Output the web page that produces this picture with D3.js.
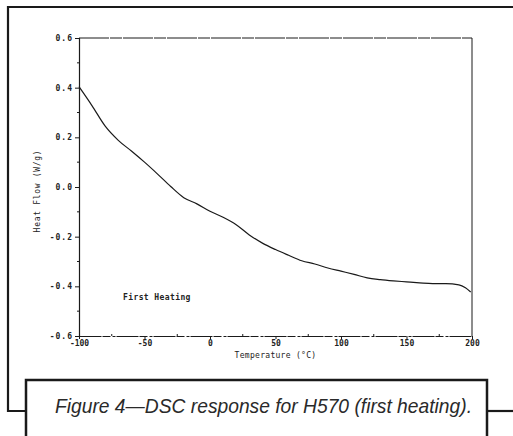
<!DOCTYPE html>
<html>
<head>
<meta charset="utf-8">
<script src="https://cdn.jsdelivr.net/npm/d3@7"></script>
<style>
	body { margin: 0; background: #fff; }
	svg { display: block; }
</style>
</head>
<body>
<div id="graphicContainer"></div>
<script>

// temperature (°C) and heat flow (W/g)
var temps = [-100, -90, -80, -70, -60, -50, -40, -30, -20, -10, 0, 10, 20, 30, 40, 50, 60, 70, 80, 90, 100, 110, 120, 130, 140, 150, 160, 170, 180, 190, 195, 199]
var heatFlow = [0.404, 0.327, 0.245, 0.188, 0.145, 0.100, 0.052, 0.002, -0.043, -0.068, -0.098, -0.122, -0.152, -0.193, -0.226, -0.252, -0.275, -0.297, -0.31, -0.326, -0.339, -0.352, -0.366, -0.373, -0.378, -0.382, -0.386, -0.389, -0.389, -0.394, -0.406, -0.423]

var xTicks = [-100, -50, 0, 50, 100, 150, 200]
var yTicks = [-0.6, -0.4, -0.2, 0.0, 0.2, 0.4, 0.6]

var xLabel = "Temperature (°C)"
var yLabel = "Heat Flow (W/g)"
var curveLabel = "First Heating"
var caption = "Figure 4\u2014DSC response for H570 (first heating)."

function init() {

	var width = 513
	var height = 436
	var margin = {top: 38, right: 41, bottom: 100, left: 79}

	var svg = d3.select("#graphicContainer").append("svg")
		.attr("width", width)
		.attr("height", height)

	var ink = "#1a1a1a"

	// outer page frame
	svg.append("path")
		.attr("fill", "none")
		.attr("stroke", ink)
		.attr("stroke-width", 2.2)
		.attr("d", "M513,7 L8,7 L8,411 L26,411")

	svg.append("path")
		.attr("fill", "none")
		.attr("stroke", ink)
		.attr("stroke-width", 2.2)
		.attr("d", "M487,411 L513,411")

	// caption box
	svg.append("path")
		.attr("fill", "none")
		.attr("stroke", ink)
		.attr("stroke-width", 2.5)
		.attr("d", "M26,440 L26,380 L487,380 L487,440")

	svg.append("text")
		.attr("x", 55)
		.attr("y", 413)
		.attr("font-family", "'Liberation Sans', Arial, sans-serif")
		.attr("font-style", "italic")
		.attr("font-size", 21)
		.attr("fill", "#2a2a2a")
		.attr("textLength", 417)
		.attr("lengthAdjust", "spacingAndGlyphs")
		.text(caption)

	var x = d3.scaleLinear()
		.domain([-100, 200])
		.range([margin.left, width - margin.right])

	var y = d3.scaleLinear()
		.domain([-0.6, 0.6])
		.range([height - margin.bottom, margin.top])

	var mono = "'DejaVu Sans Mono', 'Liberation Mono', monospace"

	// frame lines (top and right)
	svg.append("line")
		.attr("x1", x(-100)).attr("x2", x(200))
		.attr("y1", y(0.6)).attr("y2", y(0.6))
		.attr("stroke", ink).attr("stroke-width", 1)
		.attr("stroke-dasharray", "30,1,12,1")

	svg.append("line")
		.attr("x1", x(200)).attr("x2", x(200))
		.attr("y1", y(0.6)).attr("y2", y(-0.6))
		.attr("stroke", ink).attr("stroke-width", 1)

	// minor ticks
	var yMinor = d3.range(-0.5, 0.6, 0.2)
	svg.append("g")
		.attr("transform", `translate(${x(-100)},0)`)
		.selectAll("line")
		.data(yMinor)
		.join("line")
			.attr("x1", -2).attr("x2", 0)
			.attr("y1", d => y(d)).attr("y2", d => y(d))
			.attr("stroke", ink)

	var xMinor = [-75, -25, 25, 75, 125, 175]
	svg.append("g")
		.attr("transform", `translate(0,${y(-0.6)})`)
		.selectAll("line")
		.data(xMinor)
		.join("line")
			.attr("x1", d => x(d)).attr("x2", d => x(d))
			.attr("y1", -2).attr("y2", 0)
			.attr("stroke", ink)

	var yAxis = svg.append("g")
		.attr("transform", `translate(${x(-100)},0)`)
		.call(d3.axisLeft(y)
			.tickValues(yTicks)
			.tickSize(4)
			.tickPadding(2)
			.tickFormat(d3.format(".1f")))

	yAxis.select(".domain")
		.attr("stroke", ink)
		.attr("stroke-width", 1.2)
	yAxis.selectAll(".tick line").attr("stroke", ink)
	yAxis.selectAll(".tick text")
		.attr("font-family", mono)
		.attr("font-size", 8)
		.attr("font-weight", "bold")
		.attr("letter-spacing", 1)
		.attr("fill", "#222")
		.text(d => d3.format(".1f")(d).replace("−", "-"))

	var xAxis = svg.append("g")
		.attr("transform", `translate(0,${y(-0.6)})`)
		.call(d3.axisBottom(x)
			.tickValues(xTicks)
			.tickSizeInner(3)
			.tickSizeOuter(0)
			.tickPadding(1))

	xAxis.select(".domain")
		.attr("stroke", ink)
		.attr("stroke-width", 1)
		.attr("stroke-dasharray", "22,1,8,2,3,1")
	xAxis.selectAll(".tick line").attr("stroke", ink)
	xAxis.selectAll(".tick text")
		.attr("font-family", mono)
		.attr("font-size", 8)
		.attr("font-weight", "bold")
		.attr("fill", "#222")
		.text(d => String(d))

	// axis titles
	svg.append("text")
		.attr("x", (x(-100) + x(200)) / 2)
		.attr("y", 358)
		.attr("text-anchor", "middle")
		.attr("font-family", mono)
		.attr("font-size", 8)
		.attr("letter-spacing", 0.3)
		.attr("fill", "#222")
		.text(xLabel)

	svg.append("text")
		.attr("transform", `translate(40,${191}) rotate(-90)`)
		.attr("text-anchor", "middle")
		.attr("font-family", mono)
		.attr("font-size", 8)
		.attr("letter-spacing", 0.7)
		.attr("fill", "#222")
		.text(yLabel)

	svg.append("text")
		.attr("x", 123)
		.attr("y", 300)
		.attr("font-family", mono)
		.attr("font-size", 8)
		.attr("font-weight", "bold")
		.attr("letter-spacing", 0.4)
		.attr("fill", "#222")
		.text(curveLabel)

	// the DSC trace
	var points = temps.map((t, i) => ({temp: t, flow: heatFlow[i]}))

	var line = d3.line()
		.curve(d3.curveMonotoneX)
		.x(d => x(d.temp))
		.y(d => y(d.flow))

	svg.append("path")
		.datum(points)
		.attr("fill", "none")
		.attr("stroke", ink)
		.attr("stroke-width", 1.2)
		.attr("d", line)

} // end init

init()

</script>
</body>
</html>
